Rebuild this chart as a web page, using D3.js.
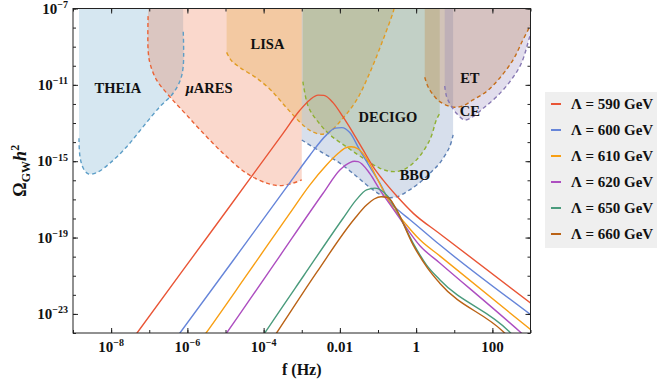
<!DOCTYPE html>
<html>
<head>
<meta charset="utf-8">
<script src="https://cdn.jsdelivr.net/npm/d3@7"></script>
<style>
  body { margin: 0; background: #fff; }
  text { font-family: "Liberation Serif", "Times New Roman", serif; font-weight: bold; fill: #111; }
</style>
</head>
<body>
<svg id="chart" width="657" height="381"></svg>
<script>
// all points as [log10 f (Hz), log10 Omega_GW h^2]
const lambdas = ["590", "600", "610", "620", "650", "660"];

const spec590 = [[-7.40,-24.22],[-7.32,-24.0],[-5.4,-18.76],[-3.49,-13.54],[-3.05,-12.33],[-2.79,-11.79],[-2.57,-11.54],
  [-2.42,-11.55],[-2.18,-11.93],[-1.92,-12.67],[-1.65,-13.53],[-1.39,-14.41],[-1.13,-15.28],[-0.87,-15.98],[-0.52,-16.8],
  [-0.08,-17.72],[0.62,-18.8],[3.05,-22.5]];
const spec600 = [[-6.28,-24.23],[-6.195,-24.0],[-4.8,-20.2],[-3.44,-16.48],[-3.05,-15.4],[-2.79,-14.7],[-2.35,-13.62],
  [-2.12,-13.27],[-1.95,-13.24],[-1.74,-13.5],[-1.48,-14.41],[-1.22,-15.28],[-0.95,-16.15],[-0.69,-17.13],[-0.45,-17.6],
  [-0.17,-18.05],[0.62,-19.38],[3.05,-23.1]];
const spec610 = [[-5.60,-24.25],[-5.51,-24.0],[-4.4,-20.84],[-3.31,-17.72],[-2.79,-16.25],[-2.35,-15.2],[-2.05,-14.6],
  [-1.85,-14.3],[-1.70,-14.24],[-1.52,-14.36],[-1.3,-14.85],[-1.0,-16.0],[-0.69,-17.18],[-0.25,-18.34],[0.10,-19.12],
  [0.62,-19.96],[3.05,-23.9]];
const spec620 = [[-5.06,-24.26],[-4.97,-24.0],[-3.7,-20.33],[-2.44,-16.68],[-2.0,-15.46],[-1.74,-15.07],[-1.62,-15.0],
  [-1.52,-15.02],[-1.22,-15.63],[-0.95,-16.5],[-0.69,-17.25],[-0.34,-18.25],[0.10,-19.43],[0.62,-20.33],[2.76,-24.0],
  [2.9,-24.25]];
const spec650 = [[-4.05,-24.24],[-3.97,-24.0],[-2.95,-21.0],[-1.92,-18.0],[-1.56,-17.0],[-1.30,-16.5],[-1.08,-16.41],
  [-0.74,-16.85],[-0.52,-17.55],[-0.08,-19.29],[0.27,-20.43],[0.62,-21.21],[2.44,-23.92],[2.6,-24.25]];
const spec660 = [[-3.74,-24.24],[-3.66,-24.0],[-2.6,-20.8],[-1.61,-18.0],[-1.30,-17.3],[-1.1,-16.98],[-0.92,-16.86],
  [-0.74,-16.9],[-0.55,-17.4],[-0.08,-19.38],[0.30,-20.6],[0.62,-21.39],[2.28,-23.92],[2.45,-24.25]];
const spectra = [spec590, spec600, spec610, spec620, spec650, spec660];

// power-law sensitivity curves (region above each curve is shaded)
const detNames = ["THEIA", "μARES", "LISA", "DECIGO", "BBO", "ET", "CE"];
const theia = [[-8.843,-13.80],[-8.817,-14.76],[-8.73,-15.37],[-8.6,-15.66],[-8.38,-15.60],[-8.03,-15.10],[-7.59,-14.24],
  [-7.16,-13.19],[-6.72,-12.14],[-6.41,-11.53],[-6.2,-10.83],[-6.11,-10.05],[-6.11,-8.13]];
const mares = [[-7.03,-7.4],[-7.03,-9.17],[-6.98,-9.87],[-6.81,-10.74],[-6.46,-11.62],[-6.02,-12.58],[-5.5,-13.71],
  [-4.97,-14.76],[-4.45,-15.63],[-3.92,-16.15],[-3.57,-16.28],[-3.23,-16.15],[-3.0,-15.98]];
const lisa = [[-4.97,-9.3],[-4.85,-9.72],[-4.6,-10.12],[-4.2,-10.62],[-3.8,-11.3],[-3.4,-12.2],[-3.05,-12.95],
  [-2.79,-13.38],[-2.53,-13.58],[-2.3,-13.5],[-1.92,-12.75],[-1.56,-11.79],[-1.22,-10.39],[-0.87,-8.65],[-0.6,-7.17],
  [-0.57,-6.9]];
const decigo = [[-2.97,-10.83],[-2.83,-12.14],[-2.61,-12.84],[-2.26,-13.62],[-1.83,-14.24],[-1.39,-14.84],[-0.95,-15.37],
  [-0.65,-15.54],[-0.34,-15.46],[0.01,-14.93],[0.36,-13.88],[0.53,-12.84],[0.62,-12.49]];
const bbo = [[-3.0,-13.89],[-2.44,-14.58],[-2.0,-15.1],[-1.56,-15.8],[-1.13,-16.5],[-0.8,-16.88],[-0.52,-16.87],
  [-0.17,-16.5],[0.18,-15.98],[0.45,-15.46],[0.62,-15.1],[0.88,-14.24],[0.97,-13.62]];
const et = [[0.226,-10.6],[0.31,-11.09],[0.45,-11.53],[0.62,-11.88],[0.84,-12.1],[1.01,-12.17],[1.23,-12.1],[1.49,-11.79],
  [1.84,-11.36],[2.19,-10.65],[2.54,-9.7],[2.8,-8.65],[2.98,-7.95],[3.1,-7.45]];
const ce = [[0.75,-11.06],[0.8,-11.62],[0.93,-12.14],[1.1,-12.58],[1.28,-12.84],[1.49,-12.66],[1.76,-12.23],[2.11,-11.62],
  [2.46,-10.83],[2.76,-9.87],[2.98,-8.48],[3.1,-7.8]];
const detectors = [theia, mares, lisa, decigo, bbo, et, ce];
// where each detector name sits, [log10 f, log10 Omega]
const detLabelAt = [[-7.82,-11.16],[-5.43,-11.16],[-3.9,-8.86],[-0.74,-12.68],[-0.03,-15.72],[1.41,-10.64],[1.41,-12.37]];

// tick labels
const xTickExp = [-8, -6, -4, -2, 0, 2];
const xTickText = [["10","−8"],["10","−6"],["10","−4"],["0.01",""],["1",""],["100",""]];
const yTickExp = [-7, -11, -15, -19, -23];

const specColors = ["#E95536", "#6685D9", "#F89F13", "#AD4EC0", "#4A9B7C", "#BA6215"];
const detColors = ["#5D9EC7", "#EB6235", "#E19C24", "#8FB032", "#5E81B5", "#C56E1A", "#8778B3"];

const svg = d3.select("#chart");
const pL = 73, pR = 530.5, pT = 8.5, pB = 333;

const x = d3.scaleLog().domain([1e-9, 1e3]).range([pL, pR]);
const y = d3.scaleLog().domain([1e-24, 1e-7]).range([pB, pT]);
const px = d => x(Math.pow(10, d[0]));
const py = d => y(Math.pow(10, d[1]));

svg.append("defs").append("clipPath").attr("id", "plot")
  .append("rect").attr("x", pL).attr("y", pT).attr("width", pR - pL).attr("height", pB - pT);

const line = d3.line().x(px).y(py).curve(d3.curveCatmullRom.alpha(0.5));
const specLine = d3.line().x(px).y(py).curve(d3.curveMonotoneX);
const plot = svg.append("g").attr("clip-path", "url(#plot)");

// shaded regions
const yTop = pT - 3;
detectors.forEach((pts, i) => {
  const d = "M" + px(pts[0]) + "," + yTop + line(pts).replace(/^M/, "L") + "L" + px(pts[pts.length - 1]) + "," + yTop + "Z";
  plot.append("path").attr("d", d).attr("fill", detColors[i]).attr("fill-opacity", 0.25).attr("stroke", "none");
});
detectors.forEach((pts, i) => {
  plot.append("path").attr("d", line(pts)).attr("fill", "none")
    .attr("stroke", detColors[i]).attr("stroke-width", 1.4).attr("stroke-dasharray", "4,3");
});

// spectra
spectra.forEach((pts, i) => {
  plot.append("path").attr("d", specLine(pts)).attr("fill", "none")
    .attr("stroke", specColors[i]).attr("stroke-width", 1.4);
});

// detector names
detNames.forEach((n, i) => {
  const t = svg.append("text").attr("x", px(detLabelAt[i])).attr("y", py(detLabelAt[i]) + 5)
    .attr("text-anchor", "middle").style("font-size", "14.5px");
  if (n.startsWith("μ")) {
    t.append("tspan").style("font-style", "italic").text("μ");
    t.append("tspan").text(n.slice(1));
  } else t.text(n);
});

// frame + ticks (inward, on all four sides)
const decadesX = d3.range(-9, 4).map(e => Math.pow(10, e));
const decadesY = d3.range(-24, -6).map(e => Math.pow(10, e));
const majX = xTickExp.map(e => Math.pow(10, e));
const majY = yTickExp.map(e => Math.pow(10, e));

function axisG(axis, tx, ty) {
  const g = svg.append("g").attr("transform", `translate(${tx},${ty})`).call(axis);
  g.select(".domain").remove();
  g.selectAll("line").attr("stroke", "#222");
  return g;
}
axisG(d3.axisBottom(x).tickValues(decadesX).tickSize(-3).tickFormat(""), 0, pB);
axisG(d3.axisBottom(x).tickValues(majX).tickSize(-5).tickFormat(""), 0, pB);
axisG(d3.axisTop(x).tickValues(decadesX).tickSize(-3).tickFormat(""), 0, pT);
axisG(d3.axisTop(x).tickValues(majX).tickSize(-5).tickFormat(""), 0, pT);
axisG(d3.axisLeft(y).tickValues(decadesY).tickSize(-3).tickFormat(""), pL, 0);
axisG(d3.axisLeft(y).tickValues(majY).tickSize(-5).tickFormat(""), pL, 0);
axisG(d3.axisRight(y).tickValues(decadesY).tickSize(-3).tickFormat(""), pR, 0);
axisG(d3.axisRight(y).tickValues(majY).tickSize(-5).tickFormat(""), pR, 0);

svg.append("rect").attr("x", pL).attr("y", pT).attr("width", pR - pL).attr("height", pB - pT)
  .attr("fill", "none").attr("stroke", "#222").attr("stroke-width", 1);

// tick labels
xTickExp.forEach((e, i) => {
  const t = svg.append("text").attr("x", x(Math.pow(10, e))).attr("y", pB + 18.5)
    .attr("text-anchor", "middle").style("font-size", "15px");
  t.append("tspan").text(xTickText[i][0]);
  if (xTickText[i][1]) t.append("tspan").attr("dy", -6).style("font-size", "10px").text(xTickText[i][1]);
});
yTickExp.forEach(e => {
  const t = svg.append("text").attr("x", pL - 5).attr("y", y(Math.pow(10, e)) + 5)
    .attr("text-anchor", "end").style("font-size", "15px");
  t.append("tspan").text("10");
  t.append("tspan").attr("dy", -5.5).style("font-size", "10px").text("−" + (-e));
});

// axis titles
svg.append("text").attr("x", (pL + pR) / 2).attr("y", 375).attr("text-anchor", "middle")
  .style("font-size", "16px").text("f (Hz)");
const yt = svg.append("text").attr("transform", `translate(26,${(pT + pB) / 2}) rotate(-90)`)
  .attr("text-anchor", "middle").style("font-size", "18px");
yt.append("tspan").text("Ω");
yt.append("tspan").attr("dy", 3.5).style("font-size", "12px").text("GW");
yt.append("tspan").attr("dy", -3.5).style("font-style", "italic").text("h");
yt.append("tspan").attr("dy", -7).style("font-size", "12px").text("2");

// legend
const lg = svg.append("g");
lg.append("rect").attr("x", 545).attr("y", 92).attr("width", 115).attr("height", 156).attr("fill", "#efefef");
lambdas.forEach((l, i) => {
  const ry = 104 + i * 26;
  lg.append("line").attr("x1", 551).attr("x2", 561).attr("y1", ry).attr("y2", ry)
    .attr("stroke", specColors[i]).attr("stroke-width", 2);
  lg.append("text").attr("x", 571).attr("y", ry + 5).style("font-size", "15px").text(`Λ = ${l} GeV`);
});
</script>
</body>
</html>
